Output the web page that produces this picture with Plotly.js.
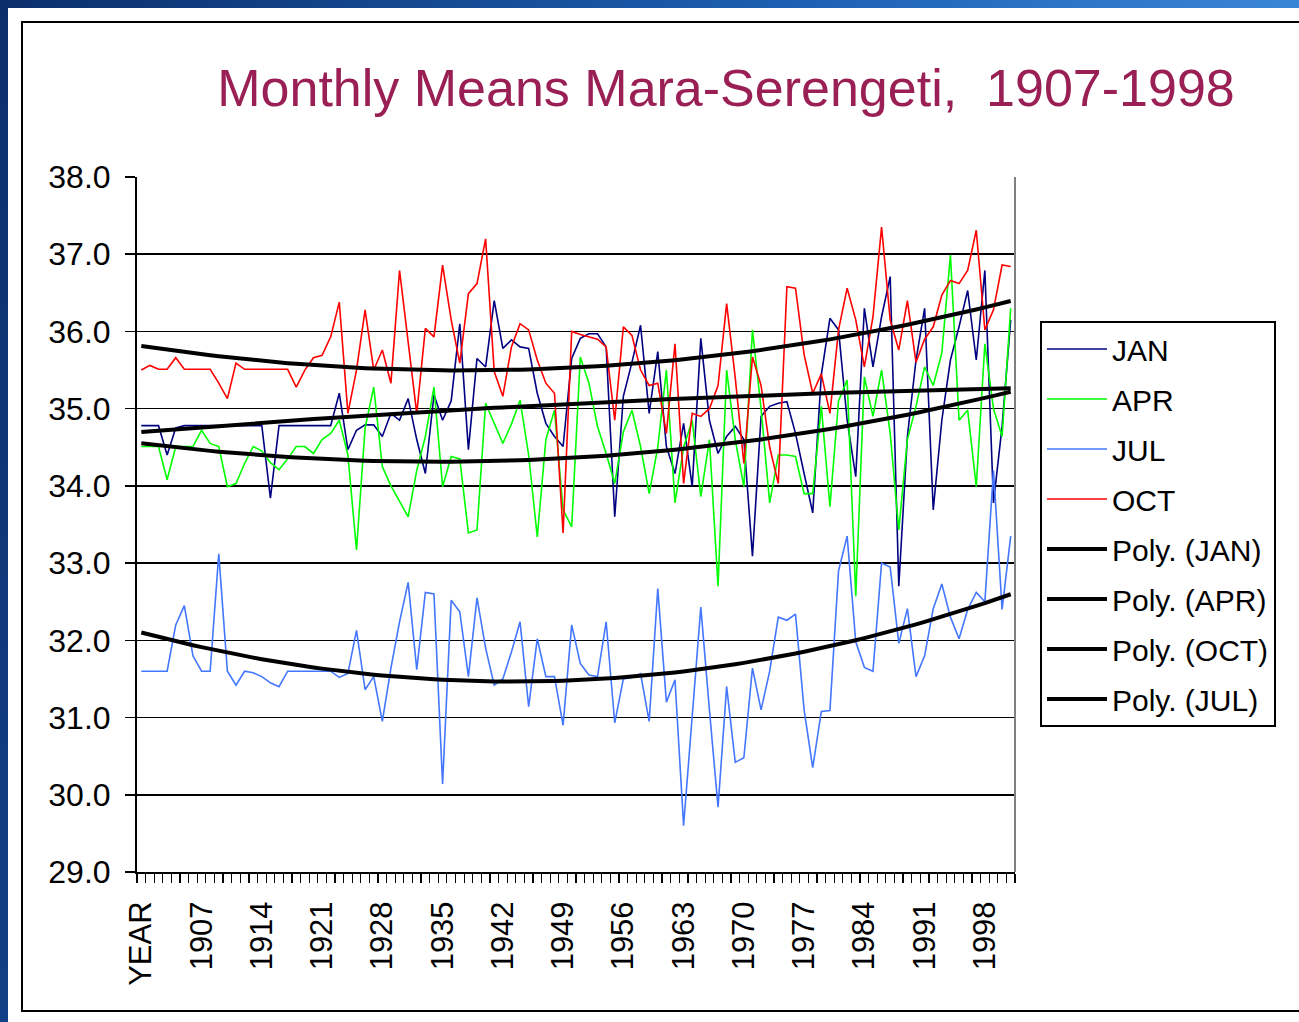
<!DOCTYPE html>
<html>
<head>
<meta charset="utf-8">
<script src="https://cdn.plot.ly/plotly-3.0.1.min.js"></script>
<style>
  html, body { margin: 0; padding: 0; background: #ffffff; width: 1299px; height: 1022px; overflow: hidden; }
  #frameTop { position: absolute; left: 0; top: 0; width: 1299px; height: 8px; background: linear-gradient(to right, #0b2f6b, #1c5fb0 60%, #3a86d6); }
  #frameLeft { position: absolute; left: 0; top: 0; width: 8px; height: 1022px; background: linear-gradient(to bottom, #0b2f6b, #123f85); }
  #box { position: absolute; left: 21px; top: 21px; width: 1290px; height: 991px; border: 2px solid #000; box-sizing: border-box; background: #fff; }
  #chart { position: absolute; left: 0; top: 0; width: 1299px; height: 1022px; }
</style>
</head>
<body>
<div id="frameTop"></div>
<div id="frameLeft"></div>
<div id="box"></div>
<div id="chart"></div>
<script>
// Categories (first cell is the header "YEAR", then the years)
const categories = ["YEAR",
  "1901","1902","1903","1904","1905","1906","1907","1908","1909","1910",
  "1911","1912","1913","1914","1915","1916","1917","1918","1919","1920",
  "1921","1922","1923","1924","1925","1926","1927","1928","1929","1930",
  "1931","1932","1933","1934","1935","1936","1937","1938","1939","1940",
  "1941","1942","1943","1944","1945","1946","1947","1948","1949","1950",
  "1951","1952","1953","1954","1955","1956","1957","1958","1959","1960",
  "1961","1962","1963","1964","1965","1966","1967","1968","1969","1970",
  "1971","1972","1973","1974","1975","1976","1977","1978","1979","1980",
  "1981","1982","1983","1984","1985","1986","1987","1988","1989","1990",
  "1991","1992","1993","1994","1995","1996","1997","1998","1999","2000","2001"];

const tickLabels = ["YEAR","1907","1914","1921","1928","1935","1942","1949","1956","1963","1970","1977","1984","1991","1998"];

const janValues = [
  34.78,34.78,34.78,34.40,34.75,34.78,34.78,34.78,34.78,34.78,
  34.78,34.78,34.78,34.78,34.78,33.84,34.78,34.78,34.78,34.78,
  34.78,34.78,34.78,35.20,34.47,34.72,34.79,34.79,34.64,34.94,
  34.85,35.13,34.60,34.16,35.18,34.85,35.10,36.10,34.47,35.65,
  35.54,36.40,35.78,35.89,35.80,35.78,35.20,34.81,34.64,34.51,
  35.65,35.91,35.97,35.97,35.80,33.60,35.16,35.60,36.08,34.94,
  35.74,34.51,34.16,34.81,33.99,35.91,34.85,34.42,34.64,34.77,
  34.60,33.09,34.90,35.03,35.07,35.09,34.68,34.16,33.65,35.44,
  36.17,36.02,34.85,34.12,36.30,35.54,36.19,36.71,32.70,34.64,
  35.63,36.30,33.69,34.85,35.63,36.06,36.53,35.63,36.79,33.78,
  34.77,36.15];

const aprValues = [
  34.51,34.51,34.51,34.08,34.51,34.51,34.51,34.72,34.55,34.51,
  33.99,34.03,34.29,34.51,34.45,34.30,34.21,34.35,34.51,34.51,
  34.42,34.60,34.68,34.85,34.40,33.17,34.75,35.28,34.25,34.00,
  33.80,33.60,34.20,34.64,35.28,33.99,34.38,34.35,33.39,33.43,
  35.07,34.80,34.55,34.80,35.11,34.40,33.34,34.60,34.98,33.69,
  33.47,35.67,35.33,34.77,34.42,34.03,34.70,34.98,34.51,33.90,
  34.50,35.50,33.78,34.50,34.85,33.86,34.60,32.70,35.50,34.60,
  33.99,36.02,35.00,33.78,34.40,34.40,34.38,33.90,33.90,35.03,
  33.73,35.10,35.37,32.57,35.41,34.90,35.50,34.68,33.43,34.60,
  35.03,35.54,35.30,35.72,36.99,34.85,34.98,33.99,35.84,35.00,
  34.64,36.30];

const julValues = [
  31.60,31.60,31.60,31.60,32.20,32.45,31.80,31.60,31.60,33.12,
  31.60,31.42,31.60,31.58,31.53,31.45,31.40,31.60,31.60,31.60,
  31.60,31.60,31.60,31.52,31.57,32.13,31.36,31.53,30.95,31.64,
  32.24,32.75,31.62,32.62,32.60,30.14,32.52,32.37,31.53,32.55,
  31.90,31.42,31.50,31.85,32.24,31.14,32.02,31.53,31.53,30.90,
  32.20,31.70,31.55,31.53,32.24,30.93,31.50,31.52,31.57,30.95,
  32.67,31.20,31.49,29.60,31.04,32.43,31.10,29.84,31.40,30.42,
  30.48,31.64,31.10,31.60,32.30,32.26,32.34,31.10,30.35,31.08,
  31.09,32.90,33.35,31.98,31.65,31.60,33.00,32.95,31.96,32.41,
  31.53,31.80,32.41,32.73,32.30,32.02,32.40,32.62,32.50,34.20,
  32.40,33.35];

const octValues = [
  35.50,35.56,35.51,35.51,35.66,35.51,35.51,35.51,35.51,35.33,
  35.13,35.59,35.51,35.51,35.51,35.51,35.51,35.51,35.28,35.50,
  35.66,35.69,35.93,36.38,34.94,35.50,36.28,35.50,35.76,35.33,
  36.79,35.90,34.94,36.04,35.93,36.86,36.15,35.59,36.49,36.62,
  37.20,35.48,35.16,35.80,36.10,36.02,35.63,35.33,35.20,33.39,
  36.00,35.96,35.93,35.90,35.80,34.85,36.06,35.95,35.50,35.30,
  35.33,34.68,35.84,34.03,34.94,34.90,35.00,35.30,36.36,35.40,
  34.29,35.67,35.30,34.50,34.03,36.58,36.56,35.70,35.20,35.45,
  34.94,36.02,36.56,36.15,35.54,36.19,37.35,36.15,35.76,36.40,
  35.60,35.90,36.06,36.47,36.66,36.62,36.79,37.31,36.02,36.28,
  36.86,36.84];

// Polynomial (order 2) trendline, least squares over category position
function polyTrend(values) {
  const pts = [];
  values.forEach((v, i) => { if (v !== null && v !== undefined) pts.push([i + 1, v]); });
  let s = [0,0,0,0,0], t = [0,0,0];
  pts.forEach(([x, y]) => {
    let xp = 1;
    for (let k = 0; k < 5; k++) { s[k] += xp; if (k < 3) t[k] += xp * y; xp *= x; }
  });
  const A = [[s[0], s[1], s[2], t[0]], [s[1], s[2], s[3], t[1]], [s[2], s[3], s[4], t[2]]];
  for (let c = 0; c < 3; c++) {
    let p = c; for (let r = c + 1; r < 3; r++) if (Math.abs(A[r][c]) > Math.abs(A[p][c])) p = r;
    [A[c], A[p]] = [A[p], A[c]];
    for (let r = 0; r < 3; r++) if (r !== c) {
      const f = A[r][c] / A[c][c];
      for (let k = c; k < 4; k++) A[r][k] -= f * A[c][k];
    }
  }
  const a0 = A[0][3] / A[0][0], a1 = A[1][3] / A[1][1], a2 = A[2][3] / A[2][2];
  return values.map((_, i) => { const x = i + 1; return a0 + a1 * x + a2 * x * x; });
}

const FONT = "Liberation Sans, Arial, sans-serif";
// category positions on the axis (0 = "YEAR", 1 = "1901", ...)
const xPos = categories.map((c, i) => i);

const series = [
  {name: "JAN", y: janValues, color: "#000080"},
  {name: "APR", y: aprValues, color: "#00ff00"},
  {name: "JUL", y: julValues, color: "#4477ff"},
  {name: "OCT", y: octValues, color: "#ff0000"}
];
const traces = series.map(s => ({
  type: "scatter", mode: "lines", name: s.name, x: xPos, y: s.y, text: categories,
  line: {color: s.color, width: 1.6}, legendgroup: s.name
}));
["JAN", "APR", "OCT", "JUL"].forEach(n => {
  const s = series.find(q => q.name === n);
  traces.push({
    type: "scatter", mode: "lines", name: "Poly. (" + n + ")", x: xPos, y: polyTrend(s.y), text: categories,
    line: {color: "#000000", width: 4}, legendgroup: "poly" + n
  });
});

const layout = {
  width: 1299, height: 1022,
  margin: {l: 137, r: 284, t: 177, b: 150, pad: 0},
  paper_bgcolor: "rgba(0,0,0,0)", plot_bgcolor: "#ffffff",
  font: {family: FONT, color: "#000000"},
  title: {
    text: "Monthly Means Mara-Serengeti, \u00a01907-1998",
    font: {family: FONT, size: 52, color: "#991f55"},
    xref: "container", x: 726 / 1299, xanchor: "center",
    yref: "container", y: 1 - 88 / 1022, yanchor: "middle"
  },
  xaxis: {
    type: "linear", range: [-0.5, categories.length - 0.5],
    tickmode: "array", tickvals: tickLabels.map(l => categories.indexOf(l)), ticktext: tickLabels,
    ticks: "", tickangle: -90, tickfont: {family: FONT, size: 31, color: "#000"},
    ticklabelstandoff: 15,
    minor: {ticks: "outside", tickmode: "linear", tick0: -0.5, dtick: 1, ticklen: 9, tickwidth: 1.2, tickcolor: "#000", showgrid: false},
    showline: true, linecolor: "#000", linewidth: 2, showgrid: false, zeroline: false
  },
  yaxis: {
    range: [29, 38], tickmode: "linear", tick0: 29, dtick: 1, tickformat: ".1f",
    ticks: "outside", ticklen: 10, tickwidth: 1.5, tickcolor: "#000",
    tickfont: {family: FONT, size: 32, color: "#000"}, ticklabelstandoff: 8,
    showgrid: true, gridcolor: "#000", gridwidth: 1.5,
    showline: true, linecolor: "#000", linewidth: 2, zeroline: false
  },
  shapes: [
    {type: "line", xref: "paper", yref: "paper", x0: 1, x1: 1, y0: 0, y1: 1, line: {color: "#808080", width: 2}}
  ],
  showlegend: true,
  legend: {
    x: (1040 - 137) / 878, y: (872 - 321) / 695, xanchor: "left", yanchor: "top",
    bgcolor: "#ffffff", bordercolor: "#000", borderwidth: 2,
    font: {family: FONT, size: 30, color: "#000"},
    traceorder: "grouped", tracegroupgap: 8, itemwidth: 60
  }
};

Plotly.newPlot("chart", traces, layout, {displayModeBar: false, staticPlot: true});
</script>
</body>
</html>
